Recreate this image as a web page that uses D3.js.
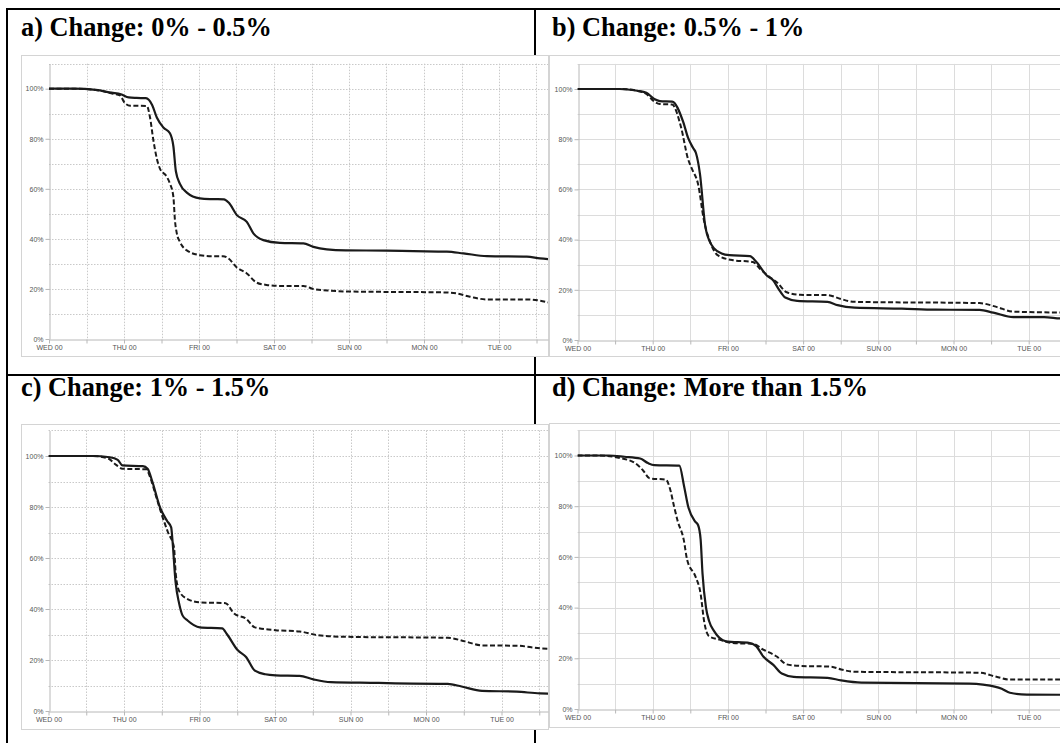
<!DOCTYPE html>
<html>
<head>
<meta charset="utf-8">
<script src="https://cdn.jsdelivr.net/npm/d3@7"></script>
<style>
  html, body { margin: 0; padding: 0; background: #fff; }
  svg { display: block; }
</style>
</head>
<body>
<svg id="chart" width="1060" height="743"></svg>
<script>
// ---- Axis labels ----
const dayLabels = ["WED 00", "THU 00", "FRI 00", "SAT 00", "SUN 00", "MON 00", "TUE 00"];
const pctTicks = [0, 20, 40, 60, 80, 100];
const pctTickLabels = ["0%", "20%", "40%", "60%", "80%", "100%"];

// ---- Panel titles ----
const panelTitles = [
  "a) Change: 0% - 0.5%",
  "b) Change: 0.5% - 1%",
  "c) Change: 1% - 1.5%",
  "d) Change: More than 1.5%"
];

// ---- Series: hours since WED 00, percentage remaining ----
// a) 0% - 0.5%
const aSolidHours = [0, 8, 15, 20, 23, 25.5, 28, 31, 33, 34.5, 36.6, 38.7, 39.8, 40.6, 41.9, 44.1, 48.3, 52, 56, 57.5, 60.1, 63.3, 65.4, 68.6, 73.9, 81.4, 84.6, 88.9, 95, 108, 116.6, 127.3, 132.6, 140.1, 152.9, 157.1, 161];
const aSolidPct   = [100, 100, 99.5, 98.4, 97.8, 96.5, 96.3, 96.2, 93.5, 88.5, 84.5, 82.2, 77, 67, 62, 58.5, 56.2, 55.9, 55.8, 54.5, 49.5, 46.8, 42.2, 39.5, 38.4, 38.2, 36.8, 35.8, 35.4, 35.3, 35.1, 34.9, 34.2, 33.1, 32.9, 32.2, 31.8];
const aDashedHours = [0, 8, 15, 20.5, 22.7, 24.3, 26, 31.3, 32.3, 33.4, 34.5, 35.5, 37.7, 38.7, 39.8, 40.3, 40.9, 41.9, 44.1, 48.3, 52, 55.7, 57.4, 60.1, 63.3, 66.5, 69.6, 74, 81.4, 84.6, 90.2, 95, 127, 130.4, 134.7, 140.1, 152.9, 161];
const aDashedPct   = [100, 100, 99.5, 98, 97.3, 94.2, 93.2, 93.1, 88.7, 79.4, 72.1, 68.1, 64.8, 62.1, 56.8, 47.5, 42.2, 38.8, 35.4, 33.5, 33.1, 33.1, 32.2, 28.6, 26.2, 22.5, 21.6, 21.2, 21.2, 20, 19.3, 19, 18.6, 18.2, 16.9, 15.8, 15.8, 14.3];

// b) 0.5% - 1%
const bSolidHours = [0, 13.5, 19, 22, 24.5, 26.3, 30.2, 33.7, 35.3, 36.9, 37.8, 39.1, 40.7, 42.3, 43.6, 46, 48.5, 55, 57.1, 60.4, 62.5, 64.2, 66.3, 70.1, 79.8, 83, 88.4, 103.5, 114.3, 128.3, 132.7, 139.1, 148.9, 154, 157];
const bSolidPct   = [100, 100, 99.3, 98.5, 96, 95.2, 95, 87, 80.5, 76.5, 74.5, 66, 46, 39, 36.5, 34.5, 33.8, 33.4, 31.1, 25.7, 23.7, 20.3, 16.9, 15.6, 15.2, 13.9, 12.9, 12.5, 12.1, 12, 10.9, 9.1, 9.1, 8.6, 8.5];
const bDashedHours = [0, 13.5, 19, 22, 24.5, 26.3, 30.2, 33, 35.3, 36.6, 38.5, 40.3, 42.5, 44.7, 49.6, 56, 58.2, 61.4, 63.6, 66.8, 71.1, 79.8, 84.1, 88.4, 128.3, 133.7, 139.1, 157];
const bDashedPct   = [100, 100, 99.3, 98, 95, 94, 93.8, 85, 72, 68, 62, 48, 38.5, 33.8, 31.8, 31.1, 28.4, 25, 23, 19, 18, 17.9, 16.3, 15.2, 14.7, 13.2, 11.3, 10.9];

// c) 1% - 1.5%
const cSolidHours = [0, 14, 19.5, 22, 23.5, 30, 31.5, 33, 35.4, 37.7, 39, 39.4, 40.4, 41.5, 42.6, 44.2, 48.1, 55.2, 56.8, 60.1, 62.8, 65.6, 68.9, 72.2, 79.8, 84.2, 89.7, 105, 115.9, 126.9, 131.3, 137.8, 148.8, 156.2, 161];
const cSolidPct   = [100, 100, 99.5, 98.5, 96.3, 96, 95, 90, 80, 74.5, 72, 67, 50.5, 42.3, 37.5, 35.5, 32.8, 32.4, 30, 23.9, 21.2, 15.8, 14.4, 14, 13.8, 12.4, 11.3, 11, 10.7, 10.6, 9.6, 7.9, 7.6, 6.9, 6.8];
const cDashedHours = [0, 14, 19, 21.5, 23.5, 31, 32.5, 34, 36, 38, 39.9, 40.4, 41.5, 44.2, 48.1, 56.3, 59, 62.8, 65.6, 72.2, 79.8, 85.3, 94.1, 126.9, 132.4, 137.8, 148.8, 156.2, 161];
const cDashedPct   = [100, 100, 99, 96.5, 95, 94.8, 91, 85, 77, 70, 64.1, 54.5, 47.1, 43.9, 42.6, 42.3, 38.2, 36.2, 32.8, 31.7, 31.2, 29.8, 29.1, 28.7, 27.3, 25.7, 25.6, 24.6, 24.3];

// d) More than 1.5%
const dSolidHours = [0, 10, 15, 20, 22.5, 24.5, 32.5, 34, 35.3, 37.5, 38.5, 39.3, 39.9, 41, 42, 43.6, 47.4, 55, 57.1, 59.3, 62.5, 65.2, 69, 79.8, 84.1, 90.6, 125.1, 129.4, 135.4, 138, 143.4, 157];
const dSolidPct   = [100, 100, 99.5, 98.8, 97, 96.2, 96, 88, 80, 74, 72.5, 66.8, 53.4, 40.1, 34.7, 30.7, 26.7, 26, 24.7, 20.7, 17.4, 14, 12.7, 12.3, 11.3, 10.4, 10, 9.6, 8, 6.4, 5.7, 5.6];
const dDashedHours = [0, 7, 13.6, 18.4, 21, 23, 28.2, 29.5, 30.8, 32, 33.9, 35, 37.7, 39.3, 40.4, 42, 45.3, 49.6, 56, 59.3, 63.6, 66.8, 71.1, 80.9, 84.1, 88.4, 128.3, 133.7, 138, 157];
const dDashedPct   = [100, 100, 99, 97, 94, 91, 90.5, 87, 80, 74, 66.8, 58.8, 52.1, 45.4, 34.7, 28.7, 27.4, 26, 25.7, 23.4, 20.7, 17.6, 17, 16.7, 15.6, 14.7, 14.3, 12.7, 11.6, 11.6];

// ---- Page layout ----
const W = 1060, H = 743;
const svg = d3.select("#chart");
svg.append("rect").attr("width", W).attr("height", H).attr("fill", "#fff");

// Table frame (black rules)
const frame = svg.append("g").attr("stroke", "#000").attr("stroke-width", 2);
frame.append("line").attr("x1", 6).attr("x2", W).attr("y1", 9).attr("y2", 9);
frame.append("line").attr("x1", 7).attr("x2", 7).attr("y1", 8).attr("y2", H);
frame.append("line").attr("x1", 535).attr("x2", 535).attr("y1", 8).attr("y2", H);
frame.append("line").attr("x1", 6).attr("x2", W).attr("y1", 375).attr("y2", 375);

// Panel geometry
const panels = [
  { key: "a", title: panelTitles[0], tx: 21, ty: 36,
    box: { x: 21, y: 55, w: 528, h: 302 }, x0: 49, dayW: 75, y0: 339, y100: 88.7, dotted: true,
    solid: [aSolidHours, aSolidPct], dashed: [aDashedHours, aDashedPct] },
  { key: "b", title: panelTitles[1], tx: 552, ty: 36,
    box: { x: 549, y: 55, w: 530, h: 302 }, x0: 577.5, dayW: 75.2, y0: 340, y100: 89, dotted: false,
    solid: [bSolidHours, bSolidPct], dashed: [bDashedHours, bDashedPct] },
  { key: "c", title: panelTitles[2], tx: 21, ty: 396,
    box: { x: 21, y: 424, w: 528, h: 306 }, x0: 48.5, dayW: 75.5, y0: 711, y100: 456, dotted: true,
    solid: [cSolidHours, cSolidPct], dashed: [cDashedHours, cDashedPct] },
  { key: "d", title: panelTitles[3], tx: 552, ty: 396,
    box: { x: 549, y: 423, w: 530, h: 305 }, x0: 577.5, dayW: 75.2, y0: 709, y100: 455.5, dotted: false,
    solid: [dSolidHours, dSolidPct], dashed: [dDashedHours, dDashedPct] }
];

// Title font size chosen so that the first title spans ~251px
const probe = svg.append("text")
  .attr("font-family", "'Liberation Serif', 'Times New Roman', serif")
  .attr("font-weight", "bold").attr("font-size", 20).text(panelTitles[0]);
const titleSize = 20 * 251 / probe.node().getComputedTextLength();
probe.remove();

const lineGen = (xs, ys) => d3.line()
  .x(d => xs(d[0])).y(d => ys(d[1]))
  .curve(d3.curveMonotoneX);

panels.forEach(p => {
  // title
  svg.append("text")
    .attr("x", p.tx).attr("y", p.ty)
    .attr("font-family", "'Liberation Serif', 'Times New Roman', serif")
    .attr("font-weight", "bold").attr("font-size", titleSize)
    .attr("fill", "#000").text(p.title);

  const g = svg.append("g");
  const b = p.box;
  const right = Math.min(b.x + b.w - 1, W);
  g.append("rect").attr("x", b.x + 0.5).attr("y", b.y + 0.5)
    .attr("width", b.w - 1).attr("height", b.h - 1)
    .attr("fill", "#fff").attr("stroke", "#d4d4d4").attr("stroke-width", 1);

  const maxH = (right - p.x0) / p.dayW * 24;
  const x = d3.scaleLinear().domain([0, maxH]).range([p.x0, right]);
  const y = d3.scaleLinear().domain([0, 100]).range([p.y0, p.y100]);
  const yTop = y(110);

  // gridlines
  const gridColor = p.dotted ? "#c9c9c9" : "#dcdcdc";
  const grid = g.append("g").attr("stroke", gridColor).attr("stroke-width", 1)
    .attr("stroke-dasharray", p.dotted ? "1.5,1.5" : null);
  d3.range(10, 111, 10).forEach(v => {
    grid.append("line").attr("x1", p.x0).attr("x2", right)
      .attr("y1", Math.round(y(v)) + 0.5).attr("y2", Math.round(y(v)) + 0.5);
  });
  const hourTicks = d3.range(0, maxH, 12);
  hourTicks.filter(h => h > 0).forEach(h => {
    grid.append("line").attr("x1", Math.round(x(h)) + 0.5).attr("x2", Math.round(x(h)) + 0.5)
      .attr("y1", yTop).attr("y2", p.y0);
  });

  // axes
  const yAxis = d3.axisLeft(y.copy().domain([0, 110]).range([p.y0, yTop]))
    .tickValues(pctTicks).tickFormat((d, i) => pctTickLabels[i])
    .tickSize(4).tickSizeOuter(0).tickPadding(2);
  const ya = g.append("g").attr("transform", `translate(${Math.round(p.x0) + 0.5},0)`).call(yAxis);

  const xAxis = d3.axisBottom(x)
    .tickValues(hourTicks)
    .tickFormat(h => (h % 24 === 0 ? dayLabels[h / 24] : ""))
    .tickSize(4).tickSizeOuter(0).tickPadding(2);
  const xa = g.append("g").attr("transform", `translate(0,${Math.round(p.y0) + 0.5})`).call(xAxis);

  [ya, xa].forEach(a => {
    a.select(".domain").attr("stroke", "#b8b8b8");
    a.selectAll(".tick line").attr("stroke", "#b8b8b8");
    a.selectAll(".tick text").attr("fill", "#555")
      .attr("font-family", "'Liberation Sans', Arial, sans-serif").attr("font-size", 7);
  });

  // clip series to plot area
  const clipId = "clip-" + p.key;
  svg.append("clipPath").attr("id", clipId).append("rect")
    .attr("x", p.x0).attr("y", yTop - 5).attr("width", right - p.x0).attr("height", p.y0 - yTop + 10);

  const plot = g.append("g").attr("clip-path", `url(#${clipId})`);
  const solidData = p.solid[0].map((h, i) => [h, p.solid[1][i]]);
  const dashedData = p.dashed[0].map((h, i) => [h, p.dashed[1][i]]);

  plot.append("path").datum(dashedData)
    .attr("d", lineGen(x, y)).attr("fill", "none")
    .attr("stroke", "#1a1a1a").attr("stroke-width", 2)
    .attr("stroke-dasharray", "5,2.5");
  plot.append("path").datum(solidData)
    .attr("d", lineGen(x, y)).attr("fill", "none")
    .attr("stroke", "#1a1a1a").attr("stroke-width", 2.2);
});
</script>
</body>
</html>
